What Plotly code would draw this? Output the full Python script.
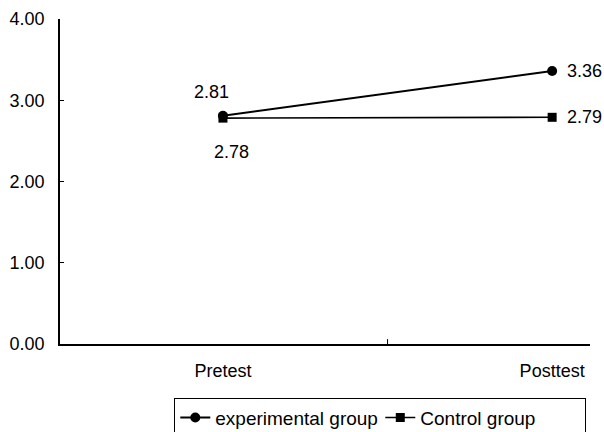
import plotly.graph_objects as go

categories = ["Pretest", "Posttest"]
experimental = [2.81, 3.36]
control = [2.78, 2.79]
series_names = ["experimental group", "Control group"]
y_ticks = [0, 1, 2, 3, 4]

FONT = "Liberation Sans, Arial, sans-serif"
xpos = list(range(len(categories)))
XR = [-0.495, 1.115]
YR = [0, 4]

fig = go.Figure()
fig.add_trace(go.Scatter(
    x=xpos, y=experimental, name=series_names[0], mode="lines+markers",
    line=dict(color="black", width=2),
    marker=dict(symbol="circle", size=10, color="black"),
))
fig.add_trace(go.Scatter(
    x=xpos, y=control, name=series_names[1], mode="lines+markers",
    line=dict(color="black", width=1.6),
    marker=dict(symbol="square", size=9, color="black"),
))

# data labels (paper coords derived from the data so they are not clipped)
offsets_exp = [(-11, 24), (32, 0)]
offsets_ctl = [(9, -34), (32, 0)]
for vals, offs in ((experimental, offsets_exp), (control, offsets_ctl)):
    for xi, v, (dx, dy) in zip(xpos, vals, offs):
        fig.add_annotation(x=(xi - XR[0]) / (XR[1] - XR[0]),
                           y=(v - YR[0]) / (YR[1] - YR[0]),
                           xref="paper", yref="paper", text=f"{v:.2f}",
                           xanchor="center", yanchor="middle",
                           showarrow=False, xshift=dx, yshift=dy,
                           font=dict(family=FONT, size=18, color="black"))

# category boundary tick
fig.add_shape(type="line", xref="x", yref="paper", x0=0.5, x1=0.5,
              y0=0, y1=0.015, line=dict(color="black", width=1))

fig.update_layout(
    width=604, height=432,
    margin=dict(l=60, r=14, t=19, b=88, autoexpand=False),
    paper_bgcolor="white", plot_bgcolor="white",
    font=dict(family=FONT, size=18, color="black"),
    showlegend=True,
    legend=dict(orientation="h", x=0.993, xanchor="right", y=-0.165, yanchor="top",
                bordercolor="black", borderwidth=1, bgcolor="white",
                font=dict(family=FONT, size=19, color="black"),
                itemwidth=30, tracegroupgap=0, entrywidth=160),
    xaxis=dict(range=XR, tickvals=xpos, ticktext=categories,
               showgrid=False, zeroline=False, showline=True, linecolor="black",
               linewidth=1.5, ticks="", tickfont=dict(family=FONT, size=18),
               ticklabelstandoff=10),
    yaxis=dict(range=YR, tickvals=y_ticks, tickformat=".2f",
               showgrid=False, zeroline=False, showline=True, linecolor="black",
               linewidth=1.5, ticks="inside", ticklen=4, tickcolor="black",
               tickfont=dict(family=FONT, size=18), ticklabelstandoff=10),
)

fig.write_html("out.html", config={"displayModeBar": False},
               post_script="document.body.style.margin='0';document.body.style.overflow='hidden';")
